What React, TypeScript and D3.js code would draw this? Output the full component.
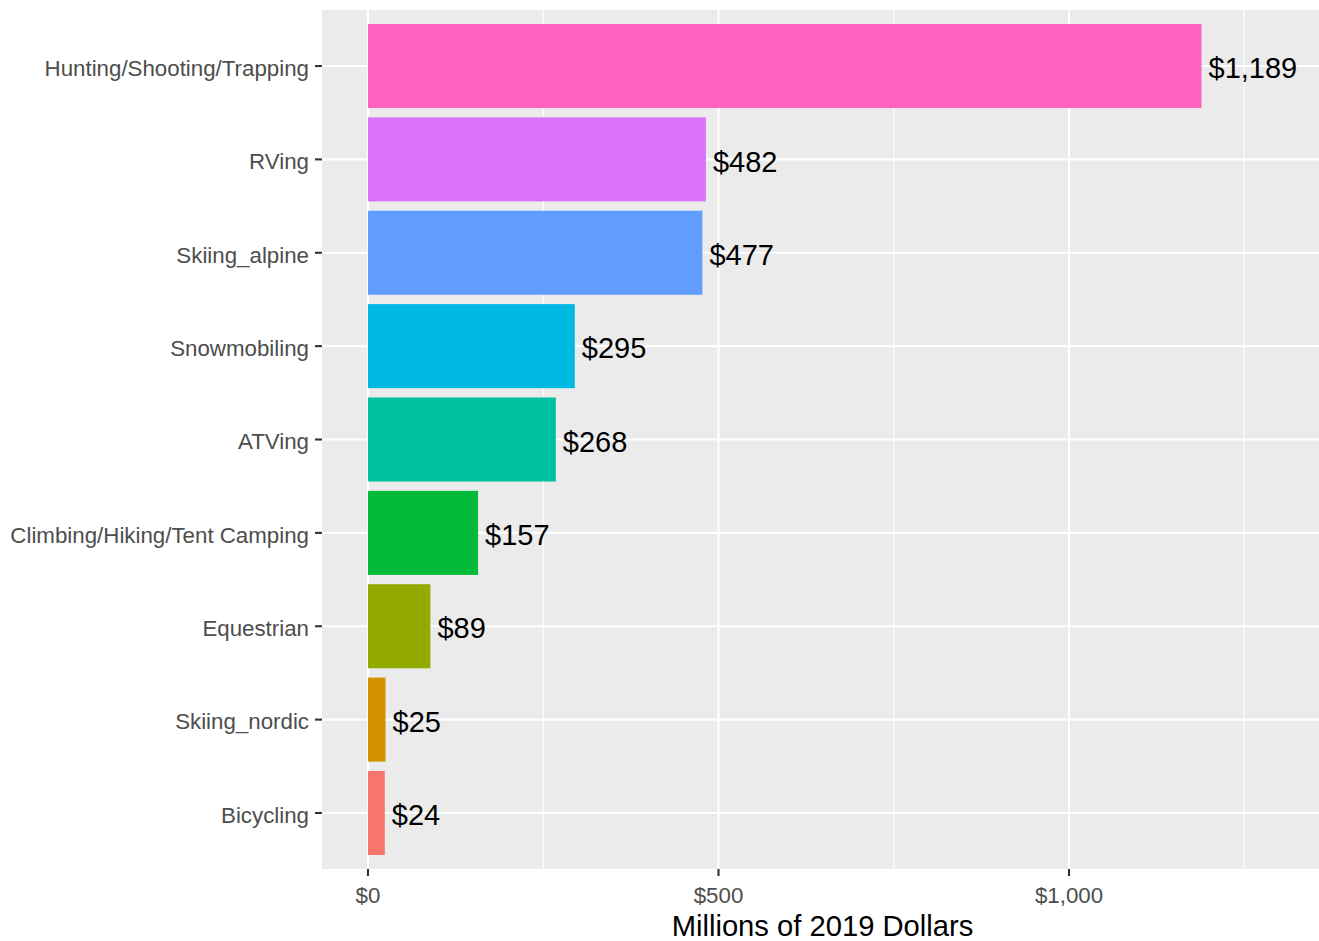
import React from "react";
import * as d3 from "d3";

const categories = [
  "Hunting/Shooting/Trapping",
  "RVing",
  "Skiing_alpine",
  "Snowmobiling",
  "ATVing",
  "Climbing/Hiking/Tent Camping",
  "Equestrian",
  "Skiing_nordic",
  "Bicycling",
];
const values = [1189, 482, 477, 295, 268, 157, 89, 25, 24];
const colors = [
  "#FF61C3",
  "#DB72FB",
  "#619CFF",
  "#00B9E3",
  "#00C19F",
  "#00BA38",
  "#93AA00",
  "#D39200",
  "#F8766D",
];
const majorTicks = [0, 500, 1000];
const minorTicks = [250, 750, 1250];
const xTitle = "Millions of 2019 Dollars";

const W = 1319;
const H = 941;
const panel = { left: 322, right: 1319, top: 10, bottom: 869 };
const FONT = "'Liberation Sans', Arial, sans-serif";

export default function App() {
  const x = d3
    .scaleLinear()
    .domain([-65.6, 1356.6])
    .range([panel.left, panel.right]);
  // discrete scale: 9 categories with 0.6 expansion on each side
  const y = d3
    .scalePoint()
    .domain(categories)
    .range([panel.top, panel.bottom])
    .padding(0.6);
  const step = y.step();
  const yc = (i: number) => (y(categories[i]) as number);
  const bh = step * 0.9;
  const fmt = (v: number) => "$" + d3.format(",")(v);

  return (
    <svg
      width={W}
      height={H}
      style={{ display: "block", position: "absolute", left: 0, top: 0 }}
      fontFamily={FONT}
    >
      <rect x={0} y={0} width={W} height={H} fill="#FFFFFF" />
      <rect
        x={panel.left}
        y={panel.top}
        width={panel.right - panel.left}
        height={panel.bottom - panel.top}
        fill="#EBEBEB"
      />
      {minorTicks.map((t) => (
        <line
          key={"mn" + t}
          x1={x(t)}
          x2={x(t)}
          y1={panel.top}
          y2={panel.bottom}
          stroke="#FFFFFF"
          strokeWidth={1.1}
        />
      ))}
      {majorTicks.map((t) => (
        <line
          key={"mj" + t}
          x1={x(t)}
          x2={x(t)}
          y1={panel.top}
          y2={panel.bottom}
          stroke="#FFFFFF"
          strokeWidth={2.1}
        />
      ))}
      {categories.map((c, i) => (
        <line
          key={"hg" + c}
          x1={panel.left}
          x2={panel.right}
          y1={yc(i)}
          y2={yc(i)}
          stroke="#FFFFFF"
          strokeWidth={2.1}
        />
      ))}
      {categories.map((c, i) => (
        <rect
          key={"bar" + c}
          x={x(0)}
          y={yc(i) - bh / 2}
          width={x(values[i]) - x(0)}
          height={bh}
          fill={colors[i]}
        />
      ))}
      {categories.map((c, i) => (
        <text
          key={"lbl" + c}
          x={x(values[i]) + 7}
          y={yc(i) + 2}
          dy="0.35em"
          fontSize={29}
          fill="#000000"
        >
          {fmt(values[i])}
        </text>
      ))}
      {categories.map((c, i) => (
        <g key={"yt" + c}>
          <line
            x1={panel.left - 7}
            x2={panel.left}
            y1={yc(i)}
            y2={yc(i)}
            stroke="#333333"
            strokeWidth={2.1}
          />
          <text
            x={panel.left - 13}
            y={yc(i) + 2}
            dy="0.35em"
            textAnchor="end"
            fontSize={22.3}
            fill="#4D4D4D"
          >
            {c}
          </text>
        </g>
      ))}
      {majorTicks.map((t) => (
        <g key={"xt" + t}>
          <line
            x1={x(t)}
            x2={x(t)}
            y1={panel.bottom}
            y2={panel.bottom + 7}
            stroke="#333333"
            strokeWidth={2.1}
          />
          <text
            x={x(t)}
            y={panel.bottom + 34}
            textAnchor="middle"
            fontSize={22.3}
            fill="#4D4D4D"
          >
            {fmt(t)}
          </text>
        </g>
      ))}
      <text
        x={(panel.left + panel.right) / 2 + 2}
        y={936}
        textAnchor="middle"
        fontSize={29.2}
        fill="#000000"
      >
        {xTitle}
      </text>
    </svg>
  );
}
